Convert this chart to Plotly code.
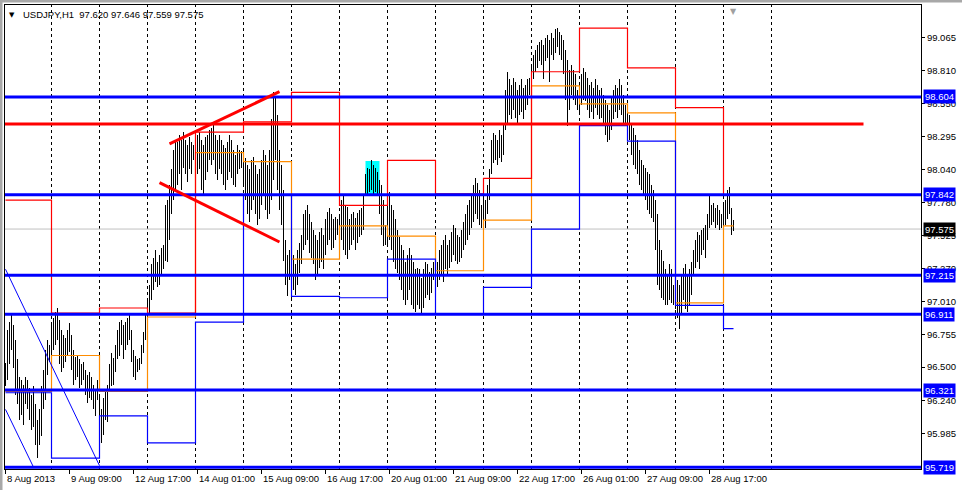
import plotly.graph_objects as go
from datetime import datetime, timedelta

# ---------------- data ----------------
symbol_text = "USDJPY,H1\u00a0\u00a097.620 97.646 97.559 97.575"

trading_days = ["2013-08-08", "2013-08-09", "2013-08-12", "2013-08-13", "2013-08-14",
                "2013-08-15", "2013-08-16", "2013-08-19", "2013-08-20", "2013-08-21",
                "2013-08-22", "2013-08-23", "2013-08-26", "2013-08-27", "2013-08-28",
                "2013-08-29"]
first_bar = "2013-08-08 01:00"
last_bar = "2013-08-29 05:00"

# hourly highs / lows (one line per trading day)
high = [
    96.53, 96.79, 96.85, 96.92, 96.83, 96.71, 96.56, 96.42, 96.40, 96.36, 96.42, 96.40, 96.34, 96.28, 96.35, 96.21, 96.09, 96.17, 96.35, 96.48, 96.63, 96.71, 96.67,
    96.83, 96.88, 96.93, 96.96, 96.87, 96.79, 96.75, 96.73, 96.79, 96.84, 96.75, 96.63, 96.58, 96.59, 96.56, 96.52, 96.54, 96.48, 96.44, 96.46, 96.42, 96.36, 96.32, 96.40,
    96.28, 96.17, 96.26, 96.32, 96.36, 96.52, 96.61, 96.57, 96.67, 96.79, 96.85, 96.87, 96.83, 96.85, 96.88, 96.92, 96.79, 96.63, 96.59, 96.56, 96.57, 96.67, 96.77, 96.91,
    97.02, 97.14, 97.30, 97.35, 97.41, 97.32, 97.37, 97.43, 97.45, 97.76, 97.80, 97.92, 98.04, 98.19, 98.27, 98.25, 98.31, 98.27, 98.33, 98.27, 98.23, 98.29, 98.25, 98.23,
    98.27, 98.31, 98.33, 98.27, 98.23, 98.29, 98.31, 98.35, 98.36, 98.41, 98.31, 98.27, 98.31, 98.27, 98.23, 98.21, 98.25, 98.31, 98.27, 98.19, 98.15, 98.23, 98.19, 98.18,
    98.19, 98.13, 98.07, 98.04, 98.11, 98.14, 98.07, 98.00, 98.04, 98.11, 98.19, 98.15, 98.07, 98.19, 98.43, 98.64, 98.60, 98.46, 98.19, 98.07, 97.88, 97.49, 97.37, 97.41,
    97.33, 97.37, 97.30, 97.41, 97.47, 97.53, 97.69, 97.72, 97.76, 97.69, 97.63, 97.57, 97.53, 97.49, 97.55, 97.58, 97.53, 97.65, 97.71, 97.74, 97.69, 97.65, 97.67, 97.65,
    97.69, 97.80, 97.83, 97.76, 97.75, 97.65, 97.69, 97.71, 97.66, 97.70, 97.72, 97.74, 97.84, 98.00, 98.05, 98.04, 98.11, 98.07, 98.05, 98.02, 97.96, 97.92, 97.80, 97.61,
    97.80, 97.86, 97.76, 97.72, 97.65, 97.57, 97.51, 97.45, 97.41, 97.32, 97.37, 97.43, 97.37, 97.32, 97.26, 97.27, 97.26, 97.19, 97.26, 97.32, 97.30, 97.24, 97.27, 97.32,
    97.37, 97.32, 97.41, 97.45, 97.49, 97.53, 97.45, 97.49, 97.55, 97.61, 97.58, 97.53, 97.51, 97.57, 97.63, 97.69, 97.76, 97.80, 97.84, 97.92, 97.97, 97.93, 97.88, 97.76,
    97.84, 97.80, 97.92, 98.04, 98.27, 98.32, 98.31, 98.27, 98.35, 98.31, 98.39, 98.66, 98.80, 98.74, 98.70, 98.75, 98.72, 98.66, 98.70, 98.74, 98.67, 98.70, 98.74, 98.75,
    98.85, 98.93, 98.97, 99.01, 99.03, 99.05, 99.01, 99.06, 99.09, 99.05, 99.10, 99.06, 99.13, 99.14, 99.11, 99.09, 99.05, 98.97, 98.89, 98.81, 98.85, 98.81, 98.78, 98.66,
    98.70, 98.78, 98.83, 98.80, 98.75, 98.70, 98.72, 98.67, 98.74, 98.70, 98.66, 98.67, 98.62, 98.58, 98.54, 98.50, 98.60, 98.66, 98.70, 98.67, 98.74, 98.70, 98.62, 98.54,
    98.52, 98.46, 98.39, 98.36, 98.31, 98.27, 98.19, 98.11, 98.07, 98.05, 98.02, 98.00, 97.92, 97.88, 97.80, 97.69, 97.49, 97.41, 97.33, 97.26, 97.22, 97.30, 97.26, 97.14,
    97.10, 97.18, 97.14, 97.22, 97.27, 97.30, 97.22, 97.26, 97.32, 97.41, 97.49, 97.55, 97.53, 97.57, 97.58, 97.61, 97.69, 97.84, 97.76, 97.78, 97.74, 97.76, 97.72, 97.69,
    97.76, 97.80, 97.88, 97.90, 97.74, 97.646,
]
low = [
    96.35, 96.40, 96.52, 96.63, 96.49, 96.28, 96.21, 96.09, 96.13, 96.05, 96.21, 96.17, 96.09, 96.01, 96.03, 95.89, 95.79, 95.89, 95.96, 96.17, 96.24, 96.44, 96.54,
    96.56, 96.63, 96.67, 96.71, 96.52, 96.46, 96.49, 96.54, 96.59, 96.62, 96.48, 96.36, 96.40, 96.42, 96.34, 96.36, 96.40, 96.28, 96.22, 96.26, 96.24, 96.17, 96.12, 96.24,
    96.01, 95.91, 95.97, 96.09, 96.07, 96.31, 96.35, 96.36, 96.46, 96.56, 96.59, 96.67, 96.56, 96.63, 96.67, 96.71, 96.54, 96.42, 96.40, 96.46, 96.48, 96.52, 96.61, 96.71,
    96.84, 96.91, 97.02, 97.10, 97.16, 97.12, 97.14, 97.22, 97.26, 97.33, 97.32, 97.49, 97.69, 97.80, 97.88, 97.92, 98.00, 97.88, 98.05, 98.00, 97.94, 98.04, 98.00, 98.11,
    97.92, 98.00, 98.04, 97.88, 97.85, 97.96, 98.02, 98.11, 98.07, 98.11, 98.00, 97.96, 98.04, 98.00, 97.92, 97.88, 97.96, 98.02, 97.97, 97.92, 97.90, 98.00, 98.04, 98.05,
    97.92, 97.80, 97.69, 97.63, 97.72, 97.80, 97.69, 97.61, 97.65, 97.76, 97.84, 97.72, 97.65, 97.69, 97.80, 97.96, 98.11, 97.88, 97.72, 97.61, 97.33, 97.14, 97.05, 97.18,
    97.04, 97.10, 97.06, 97.14, 97.23, 97.30, 97.41, 97.45, 97.49, 97.39, 97.35, 97.30, 97.18, 97.22, 97.27, 97.32, 97.26, 97.37, 97.45, 97.49, 97.41, 97.43, 97.49, 97.53,
    97.45, 97.49, 97.41, 97.37, 97.34, 97.41, 97.45, 97.49, 97.41, 97.47, 97.51, 97.53, 97.57, 97.83, 97.84, 97.86, 97.88, 97.84, 97.86, 97.83, 97.69, 97.53, 97.44, 97.45,
    97.45, 97.49, 97.41, 97.32, 97.26, 97.23, 97.18, 97.10, 97.02, 96.98, 97.02, 97.10, 96.98, 96.95, 96.93, 96.98, 96.95, 96.91, 96.96, 97.04, 97.06, 97.02, 97.08, 97.18,
    97.14, 97.12, 97.18, 97.22, 97.16, 97.26, 97.22, 97.27, 97.32, 97.37, 97.33, 97.30, 97.32, 97.35, 97.41, 97.45, 97.49, 97.53, 97.58, 97.63, 97.69, 97.65, 97.61, 97.58,
    97.61, 97.58, 97.69, 97.80, 98.00, 98.09, 98.11, 98.07, 98.13, 98.10, 98.15, 98.35, 98.40, 98.46, 98.43, 98.50, 98.44, 98.39, 98.46, 98.49, 98.43, 98.50, 98.54, 98.62,
    98.66, 98.74, 98.80, 98.83, 98.88, 98.85, 98.74, 98.88, 98.91, 98.72, 98.93, 98.89, 98.95, 98.99, 98.93, 98.89, 98.78, 98.58, 98.38, 98.50, 98.62, 98.58, 98.54, 98.50,
    98.46, 98.54, 98.58, 98.57, 98.50, 98.44, 98.49, 98.43, 98.52, 98.46, 98.43, 98.44, 98.39, 98.31, 98.25, 98.27, 98.35, 98.43, 98.49, 98.44, 98.50, 98.46, 98.39, 98.39,
    98.31, 98.27, 98.15, 98.07, 98.04, 98.00, 97.92, 97.88, 97.84, 97.80, 97.72, 97.69, 97.66, 97.63, 97.41, 97.14, 97.10, 97.04, 97.02, 96.98, 96.98, 97.02, 97.00, 96.98,
    96.95, 96.88, 96.80, 96.91, 97.02, 96.95, 96.93, 96.98, 97.06, 97.22, 97.27, 97.32, 97.26, 97.37, 97.41, 97.35, 97.49, 97.58, 97.61, 97.63, 97.58, 97.61, 97.57, 97.58,
    97.58, 97.61, 97.65, 97.69, 97.53, 97.559,
]

# daily levels from the previous session (one value per trading day)
prev_day_high = [97.80, 96.92, 96.96, 96.92, 98.33, 98.41, 98.64, 97.76, 98.11, 97.85,
                 97.97, 98.80, 99.14, 98.83, 98.52, 97.84]
prev_day_close = [96.31, 96.59, 96.31, 96.89, 98.17, 98.10, 97.34, 97.60, 97.52, 97.25,
                  97.645, 98.69, 98.55, 98.48, 97.00, 97.60]
prev_day_low = [96.30, 95.79, 96.12, 95.91, 96.85, 97.84, 97.05, 97.04, 97.34, 96.91,
                97.12, 97.575, 98.38, 98.26, 96.98, 96.80]

# drawn horizontal support / resistance levels
blue_levels = [98.604, 97.842, 97.215, 96.911, 96.321, 95.719]
red_level = 98.393
red_level_end_bar = 429
bid_price = 97.575

# drawn trend lines (time, price)
red_trend_upper = [("2013-08-13 11:00", 98.238), ("2013-08-15 18:00", 98.645)]
red_trend_lower = [("2013-08-13 06:00", 97.936), ("2013-08-15 18:00", 97.474)]
blue_channel_a = [("2013-08-08 01:00", 97.262), ("2013-08-12 00:00", 95.732)]
blue_channel_b = [("2013-08-08 01:00", 96.170), ("2013-08-08 15:00", 95.720)]
highlight_box = [("2013-08-19 13:00", 97.842), ("2013-08-19 20:00", 98.105)]

# axes
price_ticks = [99.065, 98.810, 98.550, 98.295, 98.040, 97.780, 97.525, 97.270,
               97.010, 96.755, 96.500, 96.240, 95.985]
price_range = [95.706, 99.320]
time_tick_times = ["2013-08-08 01:00", "2013-08-09 09:00", "2013-08-12 17:00",
                   "2013-08-14 01:00", "2013-08-15 09:00", "2013-08-16 17:00",
                   "2013-08-20 01:00", "2013-08-21 09:00", "2013-08-22 17:00",
                   "2013-08-26 01:00", "2013-08-27 09:00", "2013-08-28 17:00"]
time_tick_labels = ["8 Aug 2013", "9 Aug 09:00", "12 Aug 17:00", "14 Aug 01:00",
                    "15 Aug 09:00", "16 Aug 17:00", "20 Aug 01:00", "21 Aug 09:00",
                    "22 Aug 17:00", "26 Aug 01:00", "27 Aug 09:00", "28 Aug 17:00"]
future_grid_days = 1
visible_bars = 458

# ---------------- build ----------------
t_start = datetime.strptime(first_bar, "%Y-%m-%d %H:%M")
t_end = datetime.strptime(last_bar, "%Y-%m-%d %H:%M")
bar_times = []
for d in trading_days:
    base = datetime.strptime(d, "%Y-%m-%d")
    for h in range(24):
        t = base + timedelta(hours=h)
        if t_start <= t <= t_end:
            bar_times.append(t)
pos = {t.strftime("%Y-%m-%d %H:%M"): i for i, t in enumerate(bar_times)}
xs = list(range(len(bar_times)))
n = min(len(xs), len(high), len(low))
xs, high, low = xs[:n], high[:n], low[:n]

day_start = []
for d in trading_days:
    for i, t in enumerate(bar_times):
        if t.strftime("%Y-%m-%d") == d:
            day_start.append(i)
            break

FONT = "Liberation Sans, Arial, sans-serif"
BLUE = "#0000FF"

fig = go.Figure()

fig.add_trace(go.Bar(
    x=xs, y=[h - l for h, l in zip(high, low)], base=low, width=0.5,
    marker=dict(color="black", line=dict(width=0)), hoverinfo="skip", showlegend=False))

step_x = day_start + [xs[-1]]
for vals, col in [(prev_day_close, "#FF8C00"), (prev_day_low, BLUE), (prev_day_high, "#FF0000")]:
    fig.add_trace(go.Scatter(
        x=step_x, y=vals + [vals[-1]], mode="lines",
        line=dict(color=col, width=1.2, shape="hv"), hoverinfo="skip", showlegend=False))

shapes = []
# dashed day separators
grid_pos = day_start[1:] + [day_start[-1] + 24 * k for k in range(1, future_grid_days + 1)]
for g in grid_pos:
    shapes.append(dict(type="line", xref="x", yref="paper", x0=g, x1=g, y0=0, y1=1,
                       line=dict(color="black", width=1, dash="3px,3px"), layer="below"))
# bid line
shapes.append(dict(type="line", xref="paper", yref="y", x0=0, x1=1, y0=bid_price, y1=bid_price,
                   line=dict(color="#C0C0C0", width=1), layer="below"))
# highlight rectangle
shapes.append(dict(type="rect", xref="x", yref="y",
                   x0=pos[highlight_box[0][0]], x1=pos[highlight_box[1][0]],
                   y0=highlight_box[0][1], y1=highlight_box[1][1],
                   fillcolor="#00FFFF", line=dict(width=0), layer="below"))
# horizontal levels
for lv in blue_levels:
    shapes.append(dict(type="line", xref="paper", yref="y", x0=0, x1=1, y0=lv, y1=lv,
                       line=dict(color=BLUE, width=3), layer="above"))
shapes.append(dict(type="line", xref="x", yref="y", x0=-0.25, x1=red_level_end_bar,
                   y0=red_level, y1=red_level, line=dict(color="#FF0000", width=3), layer="above"))
# trend lines
for tl, col, w in [(red_trend_upper, "#FF0000", 3), (red_trend_lower, "#FF0000", 3),
                   (blue_channel_a, BLUE, 1), (blue_channel_b, BLUE, 1)]:
    shapes.append(dict(type="line", xref="x", yref="y",
                       x0=pos[tl[0][0]], y0=tl[0][1], x1=pos[tl[1][0]], y1=tl[1][1],
                       line=dict(color=col, width=w), layer="above"))

# window frame strips (outside plot)
W, H, ML, MT = 916.0, 464.0, 5.0, 5.0
shapes.append(dict(type="rect", xref="paper", yref="paper", x0=-ML / W, x1=(962 - ML) / W,
                   y0=(H + MT) / H, y1=(H + MT - 2.5) / H, fillcolor="#A8A8A8", line=dict(width=0)))
shapes.append(dict(type="rect", xref="paper", yref="paper", x0=-ML / W, x1=(2.5 - ML) / W,
                   y0=(H + MT) / H, y1=(H + MT - 490) / H, fillcolor="#A8A8A8", line=dict(width=0)))

ann = []
for tt, lab in zip(time_tick_times, time_tick_labels):
    ann.append(dict(x=pos[tt], xref="x", y=0, yref="paper", text=lab, showarrow=False,
                    xanchor="left", yanchor="top", yshift=-2, xshift=-1,
                    font=dict(family=FONT, size=9.5, color="black")))
for lv in blue_levels:
    ann.append(dict(x=1, xref="paper", y=lv, yref="y", text=f"{lv:.3f}", showarrow=False,
                    xanchor="left", yanchor="middle", xshift=2, bgcolor=BLUE, borderpad=1,
                    font=dict(family=FONT, size=9.5, color="white")))
ann.append(dict(x=1, xref="paper", y=bid_price, yref="y", text=f"{bid_price:.3f}", showarrow=False,
                xanchor="left", yanchor="middle", xshift=2, bgcolor="black", borderpad=1,
                font=dict(family=FONT, size=9.5, color="white")))
ann.append(dict(x=(20.5 - ML) / W, xref="paper", y=1, yref="paper", text=symbol_text,
                showarrow=False, xanchor="left", yanchor="top", yshift=-2,
                font=dict(family=FONT, size=9.5, color="black")))
ann.append(dict(x=(12 - ML) / W, xref="paper", y=1, yref="paper", text="\u25BC",
                showarrow=False, xanchor="center", yanchor="top", yshift=-4,
                font=dict(family="DejaVu Sans", size=7, color="black")))
ann.append(dict(x=xs[-1], xref="x", y=1, yref="paper", text="\u25BC",
                showarrow=False, xanchor="center", yanchor="top", yshift=0,
                font=dict(family="DejaVu Sans", size=8, color="#A0A0A0")))

fig.update_layout(
    width=962, height=490, margin=dict(l=5, r=41, t=5, b=21),
    paper_bgcolor="white", plot_bgcolor="white", showlegend=False, bargap=0,
    shapes=shapes, annotations=ann,
    xaxis=dict(range=[-0.25, visible_bars - 0.25], tickvals=[pos[t] for t in time_tick_times],
               ticks="outside", ticklen=4, tickcolor="black", showticklabels=False,
               showgrid=False, zeroline=False, showline=True, mirror=True,
               linecolor="black", linewidth=1, fixedrange=True),
    yaxis=dict(range=price_range, side="right", tickvals=price_ticks,
               ticktext=[f"{v:.3f}" for v in price_ticks], ticks="outside", ticklen=3,
               tickcolor="black", showgrid=False, zeroline=False, showline=True, mirror=True,
               linecolor="black", linewidth=1, fixedrange=True,
               tickfont=dict(family=FONT, size=9.5, color="black")),
)

fig.write_html("out.html", config={"displayModeBar": False},
               post_script="document.body.style.margin='0';document.body.style.overflow='hidden';")
